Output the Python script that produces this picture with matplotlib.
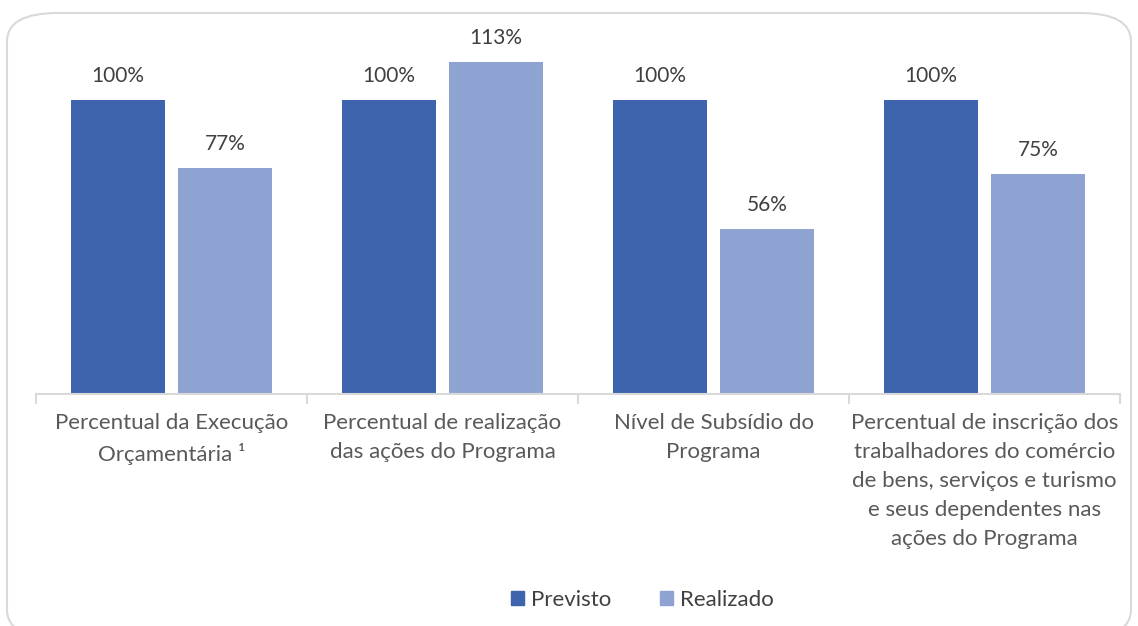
import matplotlib
matplotlib.use('Agg')
import matplotlib.pyplot as plt
from matplotlib.patches import FancyBboxPatch, Patch
import numpy as np

categories = [
    'Percentual da Execução\nOrçamentária ¹',
    'Percentual de realização\ndas ações do Programa',
    'Nível de Subsídio do\nPrograma',
    'Percentual de inscrição dos\ntrabalhadores do comércio\nde bens, serviços e turismo\ne seus dependentes nas\nações do Programa',
]
previsto = [100, 100, 100, 100]
realizado = [77, 113, 56, 75]
series_names = ['Previsto', 'Realizado']

dark = '#3D64AC'
light = '#8FA3D3'
text_color = '#404040'

plt.rcParams['font.family'] = ['Lato', 'DejaVu Sans']

W, H = 1138, 626
fig = plt.figure(figsize=(W / 100, H / 100), dpi=100)

# rounded chart border (bottom runs slightly off the picture)
border = FancyBboxPatch((7 / W, -12 / H), 1124 / W, (H - 13 + 12) / H,
                        boxstyle='round,pad=0,rounding_size=0.045',
                        transform=fig.transFigure, facecolor='none',
                        edgecolor='#D9D9D9', linewidth=1.5, zorder=-1)
fig.patches.append(border)

ax = fig.add_axes([36 / W, (H - 394) / H, (1120 - 36) / W, (394 - 20) / H])
ax.set_facecolor('none')

x = np.arange(len(categories))
width = 0.347
off = 0.197
b1 = ax.bar(x - off, previsto, width, color=dark, label=series_names[0])
b2 = ax.bar(x + off, realizado, width, color=light, label=series_names[1])

for bars, vals in ((b1, previsto), (b2, realizado)):
    for rect, v in zip(bars, vals):
        ax.annotate(f'{v}%', (rect.get_x() + rect.get_width() / 2, v),
                    xytext=(0, 10), textcoords='offset points',
                    ha='center', va='bottom', fontsize=15, color=text_color)

ax.set_xlim(-0.5, len(categories) - 0.5)
ax.set_ylim(0, 374 / 2.94)
ax.set_yticks([])
for s in ('top', 'right', 'left'):
    ax.spines[s].set_visible(False)
ax.spines['bottom'].set_color('#D9D9D9')
ax.spines['bottom'].set_linewidth(1.5)

ax.set_xticks(x)
ax.set_xticklabels(categories, fontsize=16, color='#595959', linespacing=1.55, va='top')
ax.tick_params(axis='x', which='major', length=0, pad=14)
ax.set_xticks(np.arange(-0.5, len(categories), 1), minor=True)
ax.tick_params(axis='x', which='minor', length=7, width=1.5, color='#D9D9D9')

handles = [Patch(color=dark), Patch(color=light)]
fig.legend(handles, series_names, loc='center', bbox_to_anchor=(642 / W, 1 - 600 / H),
           ncol=2, frameon=False, fontsize=16, labelcolor=text_color,
           handlelength=0.6, handleheight=0.6, columnspacing=2.2, handletextpad=0.3)

fig.savefig('out.png', dpi=100)
